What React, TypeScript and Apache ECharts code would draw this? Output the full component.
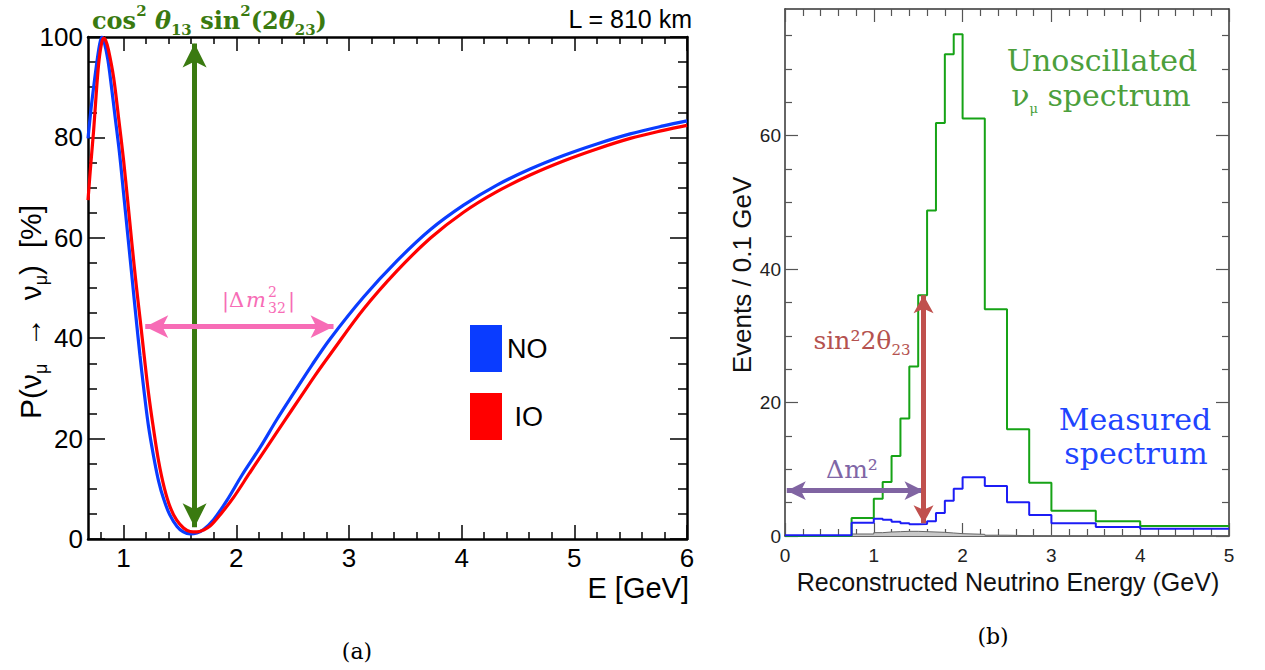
import React, { useEffect, useRef } from 'react';
import * as echarts from 'echarts';

// ---------- Left panel: P(numu -> numu) vs E ----------
const E_MIN = 0.684;
const E_MAX = 6;

const noCurve: [number, number][] = [
  [0.684, 79.8], [0.71, 85.5], [0.734, 90.0], [0.758, 94.2], [0.78, 97.6], [0.795, 99.3], [0.808, 100],
  [0.828, 99.0], [0.86, 95.5], [0.89, 90.5], [0.925, 84.0], [0.964, 76.8], [1.0, 68.8], [1.039, 60.1],
  [1.076, 51.8], [1.113, 43.5], [1.145, 36.6], [1.177, 30.3], [1.22, 22.6], [1.266, 16.5], [1.31, 11.6],
  [1.355, 8.0], [1.41, 4.8], [1.474, 2.5], [1.53, 1.4], [1.592, 1.0], [1.65, 1.2], [1.71, 1.9],
  [1.8, 3.9], [1.917, 7.7], [2.05, 12.7], [2.213, 18.3], [2.36, 23.8], [2.508, 29.0], [2.67, 34.6],
  [2.834, 39.9], [3.13, 48.2], [3.426, 55.4], [3.721, 61.6], [4.017, 66.5], [4.313, 70.5],
  [4.608, 73.7], [4.904, 76.4], [5.2, 78.7], [5.496, 80.7], [5.79, 82.3], [6.0, 83.3],
];

const ioCurve: [number, number][] = [
  [0.684, 67.5], [0.71, 75.0], [0.734, 81.4], [0.758, 89.0], [0.778, 94.5], [0.8, 98.2], [0.822, 99.8],
  [0.84, 99.4], [0.865, 97.5], [0.911, 92.0], [0.955, 84.0], [1.0, 75.4], [1.037, 67.2], [1.074, 58.8],
  [1.11, 51.0], [1.148, 43.5], [1.185, 36.0], [1.222, 28.9], [1.265, 22.0], [1.31, 15.6], [1.36, 10.3],
  [1.414, 6.3], [1.47, 3.8], [1.532, 2.2], [1.59, 1.5], [1.651, 1.4], [1.71, 1.8], [1.769, 2.6],
  [1.87, 5.2], [1.976, 8.3], [2.12, 13.2], [2.272, 18.3], [2.42, 23.3], [2.568, 28.2], [2.7, 32.6],
  [2.834, 36.8], [3.13, 45.8], [3.426, 53.4], [3.721, 59.9], [4.017, 65.1], [4.313, 69.2],
  [4.608, 72.5], [4.904, 75.3], [5.2, 77.7], [5.496, 79.8], [5.79, 81.4], [6.0, 82.4],
];

const leftMajorX = [1, 2, 3, 4, 5, 6];
const leftMinorX = [0.8, 1.2, 1.4, 1.6, 1.8, 2.2, 2.4, 2.6, 2.8, 3.2, 3.4, 3.6, 3.8, 4.2, 4.4, 4.6, 4.8, 5.2, 5.4, 5.6, 5.8];

// annotation arrows, tip positions in data units
const thetaArrow: [number, number][] = [[1.63, 98.7], [1.63, 2.35]];
const dm32Arrow: [number, number][] = [[1.192, 42.3], [2.863, 42.3]];

// ---------- Right panel: reconstructed energy histogram ----------
const binEdges = [0, 0.75, 1.0, 1.1, 1.2, 1.3, 1.4, 1.5, 1.6, 1.7, 1.8, 1.9, 2.0, 2.25, 2.5, 2.75, 3.0, 3.5, 4.0, 5.0];
const unoscillated = [0, 2.7, 5.6, 8.1, 12.0, 17.6, 25.4, 36.1, 48.8, 61.9, 72.2, 75.2, 62.6, 34.0, 16.0, 8.0, 3.8, 2.2, 1.5];
const measured = [0.1, 2.0, 2.6, 2.45, 2.15, 1.9, 1.75, 1.8, 2.2, 3.45, 5.3, 7.1, 8.8, 7.5, 5.05, 3.15, 1.9, 1.35, 1.1];
const background = [0, 0.3, 0.5, 0.6, 0.65, 0.7, 0.7, 0.65, 0.6, 0.55, 0.45, 0.35, 0.25, 0.12, 0.05, 0.03, 0.02, 0.01, 0];

const rightMajorY = [0, 20, 40, 60];
const rightMinorY = [5, 10, 15, 25, 30, 35, 45, 50, 55, 65, 70, 75];
const R_YMAX = 79;

const sinArrow: [number, number][] = [[1.56, 36.1], [1.56, 1.9]];
const dmArrow: [number, number][] = [[0.02, 6.8], [1.56, 6.8]];

// ---------- layout ----------
const LEFT_GRID = { left: 88, top: 37, width: 599, height: 502 };
const RIGHT_GRID = { left: 785, top: 9, width: 444, height: 527 };

// ---------- styling ----------
const SANS = 'Liberation Sans';
const SERIF = 'DejaVu Serif';
const GREEN_DARK = '#3a7a10';
const PINK = '#f76cb6';
const RED_ARROW = '#c0504d';
const PURPLE = '#8064a2';

const toStep = (edges: number[], counts: number[]) =>
  edges.map((e, i) => [e, counts[Math.min(i, counts.length - 1)]]);

const arrowMarkLine = (pts: [number, number][], color: string, width: number, w: number, h: number) => ({
  silent: true,
  symbol: ['arrow', 'arrow'],
  symbolSize: [w, h],
  label: { show: false },
  emphasis: { disabled: true },
  lineStyle: { color, width, type: 'solid', opacity: 1 },
  itemStyle: { color },
  data: [[{ coord: pts[0] }, { coord: pts[1] }]],
});

const axisCommon = { type: 'value' as const, splitLine: { show: false }, minorSplitLine: { show: false } };

const leftLine = { show: true, onZero: false, lineStyle: { color: '#000', width: 2.5 } };
const rightLine = { show: true, onZero: false, lineStyle: { color: '#333', width: 1.5 } };
const noLine = { show: false, onZero: false };

const leftX = (position: 'top' | 'bottom', ticks: number[], len: number, line: any, labels: boolean) => ({
  ...axisCommon, gridIndex: 0, min: E_MIN, max: E_MAX, position,
  axisLine: line,
  axisTick: { show: true, inside: true, length: len, customValues: ticks, lineStyle: { color: '#000', width: 1.5 } },
  axisLabel: labels
    ? { show: true, customValues: ticks, fontSize: 26, color: '#000', margin: 6, fontFamily: SANS }
    : { show: false },
});

const rightY = (position: 'left' | 'right', ticks: number[], len: number, line: any, labels: boolean) => ({
  ...axisCommon, gridIndex: 1, min: 0, max: R_YMAX, position,
  axisLine: line,
  axisTick: { show: true, inside: true, length: len, customValues: ticks, lineStyle: { color: '#555', width: 1.2 } },
  axisLabel: labels
    ? { show: true, customValues: ticks, fontSize: 19, color: '#222', margin: 4, fontFamily: SANS }
    : { show: false },
});

const leftY = (position: 'left' | 'right', labels: boolean) => ({
  ...axisCommon, gridIndex: 0, min: 0, max: 100, interval: 20, position,
  axisLine: leftLine,
  axisTick: { show: true, inside: true, length: 17, lineStyle: { color: '#000', width: 1.5 } },
  minorTick: { show: true, splitNumber: 4, length: 9, lineStyle: { color: '#000', width: 1.5 } },
  axisLabel: labels ? { show: true, fontSize: 26, color: '#000', margin: 5, fontFamily: SANS } : { show: false },
});

const rightX = (position: 'top' | 'bottom', labels: boolean) => ({
  ...axisCommon, gridIndex: 1, min: 0, max: 5, interval: 1, position,
  axisLine: rightLine,
  axisTick: { show: true, inside: true, length: 13, lineStyle: { color: '#555', width: 1.2 } },
  minorTick: { show: true, splitNumber: 5, length: 7, lineStyle: { color: '#555', width: 1.2 } },
  axisLabel: labels ? { show: true, fontSize: 19, color: '#222', margin: 10, fontFamily: SANS } : { show: false },
});

const txt = (x: number, y: number, style: any, extra: any = {}) => ({
  type: 'text', x, y, silent: true, ...extra,
  style: { textAlign: 'center', textVerticalAlign: 'middle', align: 'center', verticalAlign: 'middle', ...style },
});

const headlineRich = {
  b: { fontFamily: SERIF, fontWeight: 'bold', fontSize: 24, fill: GREEN_DARK, lineHeight: 34 },
  bi: { fontFamily: SERIF, fontWeight: 'bold', fontStyle: 'italic', fontSize: 24, fill: GREEN_DARK, lineHeight: 34 },
  sp: { fontFamily: SERIF, fontWeight: 'bold', fontSize: 15, fill: GREEN_DARK, lineHeight: 18, verticalAlign: 'top' },
  sb: { fontFamily: SERIF, fontWeight: 'bold', fontSize: 15, fill: GREEN_DARK, lineHeight: 16, verticalAlign: 'bottom' },
};

const pinkPart = (x: number, y: number, text: string, font: string) => ({
  type: 'text', x, y,
  style: { text, font, fill: PINK, align: 'left', verticalAlign: 'middle', textAlign: 'left', textVerticalAlign: 'middle' },
});

const graphic: any[] = [
  // left panel texts
  txt(92, 20, {
    text: '{b|cos}{sp|2}{bi| θ}{sb|13}{b| sin}{sp|2}{b|(2}{bi|θ}{sb|23}{b|)}',
    rich: headlineRich, textAlign: 'left', align: 'left',
  }),
  txt(692, 19, { text: 'L = 810 km', font: `25px "${SANS}"`, fill: '#000', textAlign: 'right', align: 'right' }),
  txt(689, 588, { text: 'E [GeV]', font: `29px "${SANS}"`, fill: '#000', textAlign: 'right', align: 'right' }),
  txt(30, 312, {
    text: '{a|P(ν}{s|μ}{a|  →  ν}{s|μ}{a|)  [%]}',
    rich: {
      a: { fontFamily: SANS, fontSize: 30, fill: '#000', lineHeight: 40 },
      s: { fontFamily: SANS, fontSize: 18, fill: '#000', lineHeight: 17, verticalAlign: 'bottom' },
    },
  }, { rotation: Math.PI / 2 }),
  {
    type: 'group', x: 222, y: 300, silent: true,
    children: [
      pinkPart(0, 0, '|Δ', `21px "${SERIF}"`),
      pinkPart(24, 0, 'm', `italic 21px "${SERIF}"`),
      pinkPart(46, -8, '2', `14px "${SERIF}"`),
      pinkPart(46, 8, '32', `14px "${SERIF}"`),
      pinkPart(66, 0, '|', `21px "${SERIF}"`),
    ],
  },
  txt(357, 651, { text: '(a)', font: `22px "${SERIF}"`, fill: '#000' }),
  // right panel texts
  txt(1102, 60, { text: 'Unoscillated', font: `30px "${SERIF}"`, fill: '#4c9f3c' }),
  txt(1101, 95, {
    text: '{a|ν}{s|μ}{a| spectrum}',
    rich: {
      a: { fontFamily: SERIF, fontSize: 30, fill: '#4c9f3c', lineHeight: 40 },
      s: { fontFamily: SERIF, fontSize: 13, fill: '#4c9f3c', lineHeight: 13, verticalAlign: 'bottom' },
    },
  }),
  txt(1135, 419, { text: 'Measured', font: `30px "${SERIF}"`, fill: '#1f45ff' }),
  txt(1136, 453, { text: 'spectrum', font: `30px "${SERIF}"`, fill: '#1f45ff' }),
  txt(862, 340, {
    text: '{a|sin²2θ}{s|23}',
    rich: {
      a: { fontFamily: SERIF, fontSize: 25, fill: '#b5524f', lineHeight: 34 },
      s: { fontFamily: SERIF, fontSize: 15, fill: '#b5524f', lineHeight: 15, verticalAlign: 'bottom' },
    },
  }),
  txt(852, 469, { text: 'Δm²', font: `25px "${SERIF}"`, fill: '#7f66a6' }),
  txt(742, 275, { text: 'Events / 0.1 GeV', font: `26px "${SANS}"`, fill: '#111' }, { rotation: Math.PI / 2 }),
  txt(1008, 582, { text: 'Reconstructed Neutrino Energy (GeV)', font: `25px "${SANS}"`, fill: '#111' }),
  txt(993, 636, { text: '(b)', font: `22px "${SERIF}"`, fill: '#000' }),
];

const option: any = {
  animation: false,
  backgroundColor: '#fff',
  textStyle: { fontFamily: SANS },
  grid: [LEFT_GRID, RIGHT_GRID],
  xAxis: [
    leftX('bottom', leftMajorX, 14, leftLine, true),
    leftX('bottom', leftMinorX, 7, noLine, false),
    leftX('top', leftMajorX, 14, leftLine, false),
    leftX('top', leftMinorX, 7, noLine, false),
    rightX('bottom', true),
    rightX('top', false),
  ],
  yAxis: [
    leftY('left', true),
    leftY('right', false),
    rightY('left', rightMajorY, 13, rightLine, true),
    rightY('left', rightMinorY, 7, noLine, false),
    rightY('right', rightMajorY, 13, rightLine, false),
    rightY('right', rightMinorY, 7, noLine, false),
  ],
  legend: {
    data: ['NO', 'IO'],
    orient: 'vertical',
    left: 465,
    top: 320,
    padding: 5,
    icon: 'rect',
    itemWidth: 32,
    itemHeight: 47,
    itemGap: 21,
    selectedMode: false,
    formatter: (n: string) => (n === 'IO' ? ' IO' : n),
    textStyle: { fontSize: 27, color: '#000', fontFamily: SANS },
  },
  graphic,
  series: [
    {
      name: 'NO', type: 'line', xAxisIndex: 0, yAxisIndex: 0, data: noCurve,
      smooth: 0.35, showSymbol: false, color: '#0a3cff', lineStyle: { width: 3.2 }, z: 3,
      markLine: arrowMarkLine(thetaArrow, GREEN_DARK, 5, 18, 24),
    },
    {
      name: 'IO', type: 'line', xAxisIndex: 0, yAxisIndex: 0, data: ioCurve,
      smooth: 0.35, showSymbol: false, color: '#ff0000', lineStyle: { width: 3.2 }, z: 4,
      markLine: arrowMarkLine(dm32Arrow, PINK, 5, 17, 23),
    },
    {
      name: 'Background', type: 'line', xAxisIndex: 4, yAxisIndex: 2, data: toStep(binEdges, background),
      step: 'end', showSymbol: false, color: '#888', lineStyle: { width: 1, color: '#666' },
      areaStyle: { color: '#c8c8c8', opacity: 1 }, z: 2,
    },
    {
      name: 'Unoscillated', type: 'line', xAxisIndex: 4, yAxisIndex: 2, data: toStep(binEdges, unoscillated),
      step: 'end', showSymbol: false, color: '#16a316', lineStyle: { width: 2 }, z: 3,
      markLine: arrowMarkLine(dmArrow, PURPLE, 5, 14, 19),
    },
    {
      name: 'Measured', type: 'line', xAxisIndex: 4, yAxisIndex: 2, data: toStep(binEdges, measured),
      step: 'end', showSymbol: false, color: '#1c1cf5', lineStyle: { width: 2 }, z: 4,
      markLine: arrowMarkLine(sinArrow, RED_ARROW, 5, 15, 18),
    },
  ],
};

export default function App() {
  const ref = useRef<HTMLDivElement>(null);
  useEffect(() => {
    const chart = echarts.init(ref.current!, null, { renderer: 'svg' });
    chart.setOption(option);
    return () => chart.dispose();
  }, []);
  return (
    <div
      ref={ref}
      style={{ position: 'fixed', left: 0, top: 0, width: 1265, height: 670, background: '#fff' }}
    />
  );
}
